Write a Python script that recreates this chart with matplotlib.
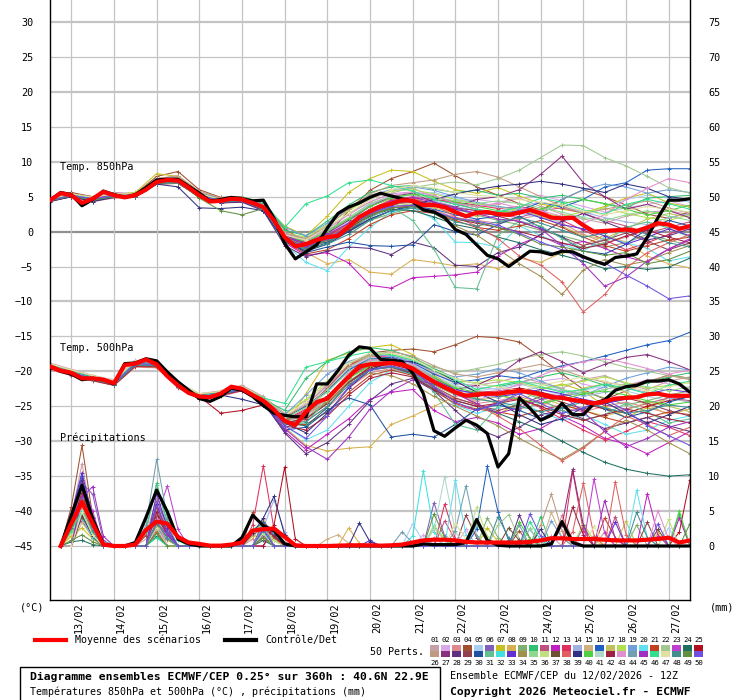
import matplotlib
matplotlib.use("Agg")
import matplotlib.pyplot as plt
from matplotlib.lines import Line2D
from matplotlib.patches import Rectangle
import numpy as np

plt.rcParams['font.family'] = ['DejaVu Sans Mono', 'DejaVu Sans']

# ---- data -------------------------------------------------------------
DATES = ['13/02', '14/02', '15/02', '16/02', '17/02', '18/02', '19/02', '20/02',
         '21/02', '22/02', '23/02', '24/02', '25/02', '26/02', '27/02']
HOURS_6H = np.arange(0, 361, 6)
HOURS_12H = np.arange(0, 361, 12)

# temperatures every 6h (hour 0 .. 360)
T850_MEAN = [4.5, 5.5, 5.2, 4.1, 4.7, 5.7, 5.2, 4.9, 5.2, 6.0,
             7.1, 7.4, 7.3, 6.3, 5.2, 4.3, 4.4, 4.7, 4.6, 4.1,
             3.5, 1.6, -0.8, -2.1, -1.8, -1.2, -0.8, -0.6, 0.7, 2.1,
             2.9, 3.6, 4.0, 4.5, 4.4, 3.8, 3.8, 3.5, 2.8, 2.2,
             2.7, 2.8, 2.5, 2.4, 2.7, 3.1, 2.6, 2.0, 1.9, 2.0,
             0.9, 0.0, 0.1, 0.2, 0.3, 0.1, 0.6, 1.2, 1.0, 0.4, 0.8]
T850_CTRL = [4.5, 5.6, 5.3, 3.7, 4.6, 5.8, 5.3, 4.9, 5.3, 6.3,
             7.4, 7.5, 7.5, 6.5, 5.5, 4.4, 4.6, 4.9, 4.7, 4.4,
             4.5, 1.9, -1.7, -3.9, -2.9, -1.9, 0.5, 2.6, 3.5, 4.1,
             4.9, 5.5, 5.1, 4.7, 4.3, 3.1, 2.8, 2.0, 0.3, -0.4,
             -1.9, -3.4, -3.9, -5.0, -3.9, -2.8, -2.9, -3.3, -2.8, -2.9,
             -3.6, -4.2, -4.7, -3.7, -3.5, -3.2, -0.8, 2.0, 4.5, 4.5, 4.7]
T500_MEAN = [-19.3, -19.9, -20.2, -21.0, -21.0, -21.2, -21.7, -19.1, -18.9, -18.3,
             -19.0, -20.7, -22.0, -23.1, -23.6, -23.7, -23.2, -22.2, -22.5, -23.4,
             -24.2, -25.5, -27.1, -27.7, -25.8, -24.4, -23.9, -22.3, -20.8, -19.3,
             -19.0, -18.9, -18.8, -19.0, -19.6, -20.6, -21.5, -22.3, -23.0, -23.5,
             -23.3, -23.2, -23.2, -23.0, -22.8, -23.0, -23.3, -23.7, -23.8, -24.1,
             -24.3, -24.6, -24.3, -23.9, -23.8, -23.7, -23.3, -23.2, -23.5, -23.5, -23.5]
T500_CTRL = [-19.3, -20.0, -20.4, -21.2, -21.0, -21.2, -21.8, -18.9, -18.8, -18.2,
             -18.5, -20.1, -21.5, -22.7, -23.9, -24.3, -23.6, -22.4, -22.7, -23.6,
             -24.9, -26.0, -26.3, -26.5, -26.5, -21.8, -21.8, -19.9, -17.7, -16.5,
             -16.7, -18.3, -18.4, -18.6, -20.2, -23.2, -28.5, -29.3, -28.1, -27.0,
             -27.7, -28.9, -33.7, -31.8, -23.8, -25.3, -27.0, -26.3, -24.6, -26.2,
             -26.2, -24.6, -24.1, -22.7, -22.2, -22.0, -21.4, -21.4, -21.2, -21.8, -23.0]

# precipitation (mm per 6h), hour 6 .. 360
RR_MEAN = [0.0, 3.2, 6.3, 3.2, 0.2, 0.0, 0.0, 0.2, 2.3, 3.5,
           3.2, 1.3, 0.5, 0.3, 0.05, 0.05, 0.2, 0.5, 2.2, 2.4,
           2.5, 1.3, 0.1, 0.0, 0.0, 0.0, 0.05, 0.1, 0.1, 0.1,
           0.05, 0.1, 0.2, 0.5, 0.8, 0.9, 0.9, 0.8, 0.6, 0.5,
           0.5, 0.5, 0.5, 0.5, 0.6, 0.8, 1.1, 1.1, 1.0, 1.0,
           1.0, 0.9, 0.8, 0.8, 0.8, 0.9, 1.0, 1.2, 0.5, 0.8]
RR_CTRL = [0.0, 4.4, 8.7, 3.9, 0.3, 0.0, 0.0, 0.5, 4.1, 8.0,
           4.9, 1.0, 0.3, 0.0, 0.0, 0.0, 0.0, 1.2, 4.4, 2.9,
           2.2, 0.3, 0.0, 0.0, 0.0, 0.0, 0.0, 0.0, 0.0, 0.0,
           0.0, 0.0, 0.0, 0.0, 0.3, 0.2, 0.2, 0.2, 0.5, 3.8,
           0.8, 0.1, 0.0, 0.0, 0.0, 0.0, 0.3, 3.5, 0.5, 0.0,
           0.0, 0.0, 0.0, 0.0, 0.0, 0.0, 0.0, 0.0, 0.0, 0.0]

MEMBER_COLORS = ['#c8a0a8', '#d8a8e8', '#e08890', '#a05030', '#a8d0f0',
                 '#8060b8', '#c8c020', '#d8b050', '#80b070', '#30c070',
                 '#c05080', '#c020c0', '#e03060', '#a0b0e0', '#d0b080',
                 '#2060c0', '#c0c060', '#b0e050', '#70a0d8', '#60e0f0',
                 '#c04020', '#a0c890', '#c040d0', '#207060', '#b01020',
                 '#c09a80', '#8a3080', '#603080', '#904050', '#2050a0',
                 '#60c090', '#40e0e0', '#6030d0', '#a09050', '#90d890',
                 '#c0e080', '#705030', '#e06060', '#303080', '#50d040',
                 '#b0d8c8', '#a02040', '#e090d0', '#70a0b0', '#a030c0',
                 '#30e090', '#e0e0a0', '#409090', '#609040', '#7050e0']

# perturbed members, every 12h (hour 0 .. 360)
T850_MEMBERS = {
    1: [4.6, 5.4, 4.9, 5.4, 5.0, 7.4, 7.8, 5.6, 4.8, 4.9, 3.8, -0.2, -1.2, 0.5, 2.5, 4.6, 5.8, 6.2, 5.0, 4.1, 3.5, 3.9, 4.8, 3.6, 2.5, 1.8, 1.2, 2.2, 2.8, 3.0, 2.4],
    2: [4.8, 5.5, 5.0, 5.6, 5.5, 7.6, 7.9, 5.4, 4.6, 4.8, 3.7, -0.3, -1.0, 0.2, 2.0, 4.0, 5.2, 5.6, 5.0, 4.4, 4.6, 4.2, 4.8, 5.2, 4.4, 3.6, 2.8, 3.4, 3.9, 4.4, 3.6],
    3: [4.3, 5.0, 4.3, 4.8, 4.9, 6.8, 6.9, 5.1, 4.3, 4.5, 3.4, -1.1, -2.4, -1.4, 0.2, 2.2, 3.4, 3.8, 3.1, 2.0, 1.6, 1.2, 1.8, 2.4, 1.2, -0.4, -1.6, -0.8, 0.4, 1.2, 0.2],
    4: [4.7, 5.6, 5.0, 5.5, 5.4, 7.9, 8.6, 6.0, 4.9, 5.0, 4.0, 0.4, -1.5, -0.5, 3.0, 5.9, 7.6, 8.6, 9.8, 8.0, 6.4, 5.2, 4.0, 3.1, 4.6, 6.0, 5.0, 3.8, 2.5, 1.9, 2.8],
    5: [4.6, 5.3, 4.9, 5.5, 5.3, 7.3, 7.6, 5.5, 4.7, 4.9, 3.6, -0.6, -1.5, -0.4, 1.4, 3.6, 4.8, 5.4, 5.6, 4.8, 4.0, 3.4, 2.6, 2.0, 1.4, 2.2, 3.4, 4.6, 5.2, 4.8, 4.2],
    7: [4.4, 5.2, 4.6, 5.3, 5.6, 8.3, 7.9, 5.5, 4.6, 4.8, 3.9, 0.8, -0.6, 2.2, 5.6, 7.6, 8.8, 8.6, 7.2, 6.0, 5.5, 6.3, 5.1, 4.0, 3.2, 2.7, 3.6, 4.8, 5.5, 4.1, 3.5],
    8: [4.5, 5.1, 4.4, 5.0, 5.2, 7.2, 7.0, 5.0, 4.2, 4.4, 3.2, -1.0, -3.0, -4.6, -4.0, -5.8, -6.1, -4.0, -4.4, -4.9, -4.6, -5.3, -3.8, -4.4, -3.0, -2.0, -0.5, -1.5, -3.5, -4.6, -5.2],
    9: [4.4, 5.0, 4.5, 5.0, 5.0, 6.9, 7.0, 4.9, 4.1, 4.3, 3.4, -1.0, -2.2, -1.2, 0.0, 1.6, 2.6, 3.4, 3.6, 3.2, 2.4, 1.6, 1.0, 0.2, -0.6, -1.4, -2.2, -1.6, -0.4, -1.2, -2.0],
    10: [4.6, 5.3, 4.8, 5.3, 5.3, 7.2, 7.4, 5.3, 4.6, 4.8, 3.8, 0.2, -0.6, 1.5, 3.8, 5.6, 6.4, 6.6, 6.1, 5.6, 5.9, 5.2, 5.5, 4.8, 5.2, 4.6, 4.0, 3.4, 4.8, 5.0, 5.2],
    11: [4.5, 5.3, 4.7, 5.1, 5.2, 7.0, 7.5, 5.4, 4.5, 4.6, 3.5, -0.8, -2.0, -0.6, 1.0, 3.0, 4.2, 4.8, 4.6, 4.0, 3.2, 2.4, 2.0, 3.0, 3.4, 2.6, 1.6, 0.8, -0.2, 0.6, 1.4],
    12: [4.4, 5.0, 4.5, 5.0, 5.1, 6.9, 7.0, 4.9, 4.1, 4.3, 3.0, -1.6, -3.4, -3.0, -4.5, -7.7, -8.1, -6.6, -6.4, -6.2, -5.8, -3.5, -1.8, -0.6, -2.0, -1.4, -2.4, -3.6, -4.4, -2.5, -1.0],
    13: [4.5, 5.2, 4.7, 5.2, 5.2, 7.2, 7.2, 5.2, 4.4, 4.6, 3.5, -0.7, -1.8, -0.6, 1.2, 3.2, 4.5, 5.0, 4.6, 4.2, 3.8, 3.3, 3.6, 3.0, 1.6, 0.2, -1.2, -2.6, -1.6, -0.4, 0.8],
    14: [4.6, 5.4, 4.9, 5.3, 5.4, 7.3, 7.5, 5.3, 4.5, 4.7, 3.6, -0.4, -1.4, 0.0, 1.8, 3.8, 5.0, 5.2, 4.4, 3.6, 3.0, 2.8, 3.6, 4.2, 3.6, 2.8, 2.0, 1.4, 1.0, 2.0, 2.6],
    16: [4.6, 5.3, 4.8, 5.2, 5.3, 7.0, 7.1, 5.1, 4.4, 4.7, 3.5, -0.6, -2.0, -1.5, 0.2, 1.8, 3.0, 3.6, 3.2, 2.4, 1.8, 2.2, 3.0, 4.2, 3.5, 4.6, 6.4, 7.0, 8.8, 9.0, 9.0],
    17: [4.5, 5.1, 4.6, 5.2, 5.1, 7.1, 7.2, 4.9, 4.2, 4.5, 3.4, -1.0, -2.0, -1.0, 0.4, 2.4, 3.6, 4.0, 3.4, 2.6, 2.2, 2.6, 3.2, 2.2, 0.8, -0.6, -1.0, 0.4, 1.8, 2.6, 2.0],
    18: [4.7, 5.4, 4.8, 5.4, 5.5, 7.4, 7.6, 5.3, 4.5, 4.7, 3.6, -0.2, -0.8, 1.0, 3.0, 4.8, 5.8, 6.0, 5.4, 4.6, 4.0, 3.6, 3.0, 2.6, 2.2, 2.8, 3.4, 2.6, 2.0, 1.6, 2.4],
    19: [4.6, 5.4, 4.9, 5.4, 5.4, 7.5, 7.6, 5.5, 4.7, 4.9, 3.9, 0.6, -0.6, 1.2, 3.3, 5.2, 6.0, 6.4, 5.9, 5.0, 4.2, 3.6, 3.2, 2.4, 4.6, 6.0, 6.8, 6.4, 5.5, 6.0, 5.6],
    20: [4.4, 5.1, 4.6, 5.1, 5.2, 7.0, 7.1, 5.0, 4.2, 4.4, 3.1, -1.8, -4.4, -5.6, -2.2, 0.6, 2.8, 3.4, 1.8, -1.5, -1.6, -2.2, 0.8, -0.6, -1.8, -2.8, -0.8, -1.6, -2.4, -4.2, -3.6],
    21: [4.4, 5.0, 4.4, 4.9, 5.0, 6.8, 6.9, 5.0, 4.2, 4.4, 3.2, -1.4, -3.2, -2.6, -1.0, 1.0, 2.4, 3.0, 2.6, 1.6, 0.6, 0.2, 0.8, 1.6, 0.6, -0.8, -2.0, -2.8, -2.0, -1.2, -0.8],
    22: [4.6, 5.3, 4.8, 5.3, 5.3, 7.3, 7.5, 5.4, 4.6, 4.8, 3.6, -0.4, -1.0, 0.6, 2.6, 4.2, 5.5, 6.3, 6.8, 7.1, 6.7, 7.6, 8.8, 10.6, 12.4, 12.3, 10.6, 9.4, 7.9, 6.3, 5.5],
    24: [4.5, 5.1, 4.6, 5.1, 5.2, 7.1, 7.3, 5.1, 4.4, 4.5, 3.3, -1.3, -2.6, -1.6, 0.1, 2.2, 3.2, 3.0, 2.1, 1.0, 0.4, -0.8, -1.6, -2.6, -3.4, -4.2, -5.3, -5.0, -5.4, -5.1, -3.8],
    26: [4.7, 5.4, 5.0, 5.5, 5.4, 7.6, 8.0, 5.8, 4.8, 4.9, 3.7, -0.2, -1.0, 0.8, 3.2, 5.4, 6.6, 7.0, 7.4, 8.2, 8.6, 7.8, 6.4, 5.0, 3.6, 2.6, 3.2, 3.8, 4.4, 3.4, 2.6],
    27: [4.5, 5.2, 4.7, 5.2, 5.1, 7.2, 7.3, 5.2, 4.5, 4.6, 3.6, -0.8, -1.6, -0.2, 1.6, 3.6, 5.0, 5.5, 4.2, 3.5, 4.6, 5.0, 6.0, 8.2, 10.8, 7.0, 5.0, 3.2, 3.9, 3.0, 2.0],
    28: [4.4, 5.0, 4.5, 5.0, 5.1, 7.0, 7.1, 5.0, 4.1, 4.2, 3.0, -2.0, -3.6, -2.8, -2.2, -2.4, -3.3, -1.5, -2.3, -4.8, -5.0, -3.0, -2.2, -0.4, 1.5, 2.6, 1.4, 0.2, -1.2, -0.6, 0.4],
    29: [4.5, 5.2, 4.8, 5.3, 5.2, 7.1, 7.0, 5.0, 4.3, 4.6, 3.5, -0.6, -1.6, -0.6, 0.8, 2.6, 3.8, 4.6, 4.0, 3.4, 3.0, 2.2, 1.4, 0.4, -0.8, -2.0, -1.2, -0.2, -1.4, -2.6, -1.6],
    30: [4.4, 5.1, 4.6, 5.1, 5.2, 7.0, 7.2, 5.1, 4.2, 4.4, 3.2, -1.2, -3.0, -2.2, -1.5, -2.0, -2.1, -1.9, 1.0, 0.0, -0.5, 1.0, 2.2, 0.6, -0.8, -2.8, -3.2, -1.8, 0.4, 1.6, 0.8],
    31: [4.5, 5.2, 4.8, 5.1, 5.0, 6.8, 7.0, 5.3, 4.5, 4.6, 3.3, -1.5, -2.6, -1.8, 0.5, 2.0, 3.5, 1.6, -2.5, -8.0, -8.2, -0.5, 1.5, 0.8, -1.0, -2.4, -1.6, 0.6, 1.4, 0.5, -0.8],
    33: [4.4, 5.1, 4.6, 5.2, 5.3, 7.2, 7.3, 5.2, 4.4, 4.6, 3.5, -0.9, -2.2, -1.0, 0.6, 2.6, 3.8, 4.4, 4.0, 3.2, 2.6, 2.4, 3.0, 2.0, 1.0, 0.4, -0.6, -1.8, -0.8, 0.4, -0.6],
    34: [4.5, 5.2, 4.6, 5.2, 5.2, 7.0, 7.3, 5.2, 4.4, 4.5, 3.4, -0.9, -2.0, -0.8, 0.9, 2.8, 3.9, 4.2, 2.6, 0.8, -0.5, -2.5, -4.6, -6.4, -9.0, -5.5, -4.0, -4.8, -4.2, -3.0, -2.0],
    35: [4.6, 5.3, 4.9, 5.4, 5.3, 7.3, 7.5, 5.4, 4.6, 4.8, 3.6, -0.4, -1.2, 0.2, 2.0, 4.0, 5.0, 5.2, 4.8, 4.4, 4.0, 4.4, 4.0, 3.4, 2.8, 2.0, 1.6, 2.4, 3.0, 2.2, 1.6],
    38: [4.4, 5.1, 4.6, 5.1, 5.2, 7.2, 7.4, 5.2, 4.3, 4.5, 3.4, -1.2, -2.4, -1.0, 1.2, 3.2, 4.6, 4.8, 3.9, 2.1, 0.8, -1.0, -3.5, -4.8, -7.2, -11.5, -9.0, -5.2, -3.0, -1.6, -0.4],
    39: [4.3, 5.0, 4.3, 4.9, 5.0, 6.8, 6.4, 3.4, 3.3, 3.5, 3.0, -1.4, -2.8, -1.8, 0.0, 1.8, 3.0, 3.8, 4.6, 5.4, 6.0, 6.5, 6.8, 7.2, 6.8, 6.2, 5.6, 6.8, 6.2, 5.0, 4.6],
    40: [4.5, 5.3, 4.7, 5.3, 5.2, 7.2, 7.4, 5.3, 4.5, 4.6, 3.5, -0.7, -1.4, 0.0, 1.8, 3.6, 4.8, 5.4, 5.0, 4.2, 3.6, 3.0, 2.6, 3.2, 4.0, 4.6, 4.0, 3.2, 2.4, 3.0, 3.8],
    42: [4.4, 5.1, 4.6, 5.1, 5.0, 6.9, 7.1, 5.0, 4.2, 4.4, 3.4, -1.0, -2.2, -1.2, 0.4, 2.4, 3.4, 3.6, 2.8, 1.8, 1.2, 0.6, 0.0, -0.8, -1.6, -2.4, -1.8, -0.6, 0.2, -0.8, -1.6],
    43: [4.5, 5.2, 4.7, 5.2, 5.2, 7.1, 7.3, 5.2, 4.5, 4.7, 3.7, -0.3, -1.3, 0.4, 2.4, 4.3, 5.4, 5.7, 5.2, 4.0, 3.6, 4.1, 3.4, 3.0, 2.2, 1.2, 2.4, 4.6, 6.2, 7.6, 7.0],
    45: [4.5, 5.2, 4.7, 5.3, 5.2, 7.2, 7.4, 5.3, 4.5, 4.6, 3.5, -0.5, -1.8, -0.4, 1.2, 3.0, 4.4, 4.9, 4.2, 3.4, 2.6, 1.8, 1.5, 0.4, -2.0, -4.6, -7.8, -6.5, -4.2, -2.5, -1.2],
    46: [4.5, 5.3, 4.6, 5.1, 5.3, 7.0, 7.2, 5.1, 4.5, 4.9, 4.3, 0.6, 4.0, 5.1, 7.0, 7.4, 6.6, 5.8, 4.6, 3.9, 3.2, 2.8, 3.5, 4.8, 4.2, 3.1, 2.5, 3.9, 4.6, 4.0, 3.2],
    47: [4.6, 5.4, 4.9, 5.4, 5.4, 7.4, 7.7, 5.4, 4.6, 4.8, 3.6, -0.5, -1.2, 0.6, 2.6, 4.6, 6.0, 6.6, 6.2, 5.6, 5.2, 5.0, 4.6, 4.2, 3.8, 3.0, 2.4, 3.0, 3.6, 3.2, 2.8],
    48: [4.4, 5.1, 4.5, 5.0, 5.0, 6.9, 7.0, 4.9, 4.2, 4.4, 3.3, -1.2, -2.6, -1.8, -0.4, 1.6, 3.0, 3.4, 2.6, 1.4, 0.8, 1.4, 2.0, 1.2, 0.2, -0.8, -0.2, 0.6, -0.4, -1.6, -2.2],
    49: [4.5, 5.1, 4.6, 5.0, 5.1, 7.0, 7.2, 4.8, 3.0, 2.4, 3.3, -1.0, -2.4, -1.2, 0.6, 2.4, 3.4, 3.6, 2.8, 1.8, 1.4, 0.6, -0.4, -1.8, -2.2, -2.8, -3.4, -3.0, -4.6, -4.0, -2.8],
    50: [4.5, 5.2, 4.7, 5.1, 5.1, 7.1, 7.2, 5.2, 4.4, 4.5, 3.4, -1.0, -2.2, -1.0, 0.8, 2.6, 3.6, 3.8, 2.9, 1.9, 1.5, 0.9, -0.2, -1.5, -2.6, -3.8, -4.5, -6.2, -7.8, -9.6, -9.2],
}

T500_MEMBERS = {
    1: [-19.2, -20.0, -20.8, -21.5, -18.7, -18.8, -21.6, -23.2, -22.8, -22.0, -23.6, -26.0, -24.2, -21.8, -19.6, -18.2, -18.0, -18.6, -20.2, -21.8, -22.0, -21.5, -20.8, -21.6, -22.4, -21.2, -20.6, -21.8, -22.6, -21.4, -20.8],
    2: [-18.8, -19.7, -20.6, -21.2, -18.4, -18.6, -21.6, -23.2, -22.9, -22.2, -24.0, -26.4, -24.6, -22.0, -19.4, -18.0, -17.8, -18.6, -20.2, -21.6, -22.2, -22.6, -22.0, -21.4, -21.0, -21.8, -22.6, -22.0, -21.2, -21.8, -22.4],
    3: [-19.8, -20.6, -21.4, -22.0, -19.4, -19.5, -22.4, -24.0, -23.6, -22.8, -24.2, -27.6, -27.0, -25.2, -22.4, -20.2, -19.6, -20.4, -22.4, -24.0, -24.6, -24.2, -23.6, -24.4, -25.2, -25.8, -25.0, -24.4, -25.2, -26.0, -25.4],
    4: [-19.3, -20.1, -20.9, -21.6, -18.7, -18.9, -21.8, -23.4, -23.0, -22.3, -24.0, -26.5, -25.0, -22.6, -19.2, -17.4, -17.0, -16.8, -17.2, -16.2, -15.0, -15.2, -15.8, -18.0, -20.4, -22.6, -24.0, -22.8, -21.6, -20.5, -21.0],
    5: [-19.0, -20.0, -20.7, -21.4, -18.6, -18.7, -21.7, -23.3, -23.0, -22.3, -24.0, -26.8, -24.8, -22.2, -19.6, -18.4, -18.2, -19.0, -20.6, -22.0, -22.8, -22.4, -21.8, -22.6, -23.4, -22.8, -22.0, -22.8, -23.6, -24.2, -23.6],
    7: [-19.2, -20.0, -20.9, -21.6, -18.8, -18.9, -21.9, -23.5, -23.0, -22.4, -24.0, -27.8, -23.2, -18.4, -17.4, -16.6, -16.2, -17.6, -20.6, -22.4, -24.6, -26.2, -24.4, -22.6, -21.8, -22.8, -25.0, -26.6, -25.2, -23.8, -24.4],
    8: [-19.3, -20.2, -21.0, -21.7, -18.9, -19.1, -22.0, -23.6, -23.3, -22.6, -24.4, -28.0, -30.6, -31.4, -31.0, -30.8, -27.6, -26.4, -25.0, -23.6, -22.8, -23.4, -24.2, -25.0, -23.6, -22.4, -21.8, -23.0, -24.8, -26.2, -25.4],
    9: [-19.6, -20.4, -21.3, -21.9, -19.2, -19.3, -22.2, -23.8, -23.4, -22.7, -24.2, -27.4, -26.6, -24.4, -21.4, -19.4, -19.2, -20.2, -22.0, -23.4, -23.8, -24.6, -25.4, -24.6, -23.6, -23.0, -23.8, -24.8, -24.2, -23.4, -22.8],
    10: [-19.2, -20.1, -20.9, -21.6, -18.8, -18.9, -21.9, -23.5, -23.1, -22.4, -24.0, -25.6, -21.0, -18.6, -17.2, -16.6, -17.0, -18.0, -19.6, -21.0, -21.8, -22.2, -21.6, -20.8, -20.2, -21.0, -22.0, -22.4, -21.6, -20.8, -20.2],
    11: [-19.4, -20.3, -21.2, -21.8, -19.0, -19.2, -22.1, -23.7, -23.3, -22.6, -24.2, -27.0, -25.6, -23.6, -20.6, -19.0, -18.8, -19.6, -21.4, -22.8, -23.0, -22.8, -22.4, -23.0, -23.6, -24.2, -24.8, -25.4, -24.6, -23.8, -24.2],
    12: [-19.4, -20.3, -21.1, -21.8, -19.0, -19.2, -22.1, -23.7, -23.4, -22.8, -24.6, -28.6, -31.2, -29.0, -26.8, -24.0, -23.0, -22.6, -25.6, -27.2, -26.6, -27.4, -29.0, -28.2, -26.4, -27.8, -29.6, -30.4, -31.8, -30.2, -28.6],
    13: [-19.3, -20.2, -21.0, -21.7, -18.9, -19.0, -22.0, -23.6, -23.2, -22.5, -24.2, -27.0, -25.4, -22.4, -19.2, -17.8, -18.0, -19.6, -22.4, -24.8, -25.6, -24.4, -23.8, -25.2, -26.8, -28.4, -29.8, -28.6, -27.2, -28.0, -29.2],
    14: [-19.1, -19.9, -20.8, -21.4, -18.6, -18.8, -21.8, -23.4, -23.0, -22.3, -24.0, -26.6, -25.0, -22.8, -19.8, -18.4, -18.4, -19.2, -21.0, -22.6, -23.4, -23.8, -23.0, -22.2, -22.8, -23.6, -23.0, -22.4, -23.0, -23.8, -24.4],
    16: [-19.2, -20.1, -20.9, -21.5, -18.8, -18.9, -21.8, -23.4, -23.0, -22.3, -24.0, -26.6, -25.0, -22.8, -19.8, -18.2, -18.0, -18.8, -20.4, -21.6, -21.2, -20.6, -21.0, -20.0, -19.2, -18.6, -17.8, -17.0, -16.2, -15.6, -14.4],
    17: [-19.5, -20.3, -21.1, -21.9, -19.1, -19.2, -22.2, -23.8, -23.3, -22.6, -24.2, -27.2, -26.2, -24.0, -21.0, -19.2, -19.0, -19.8, -21.8, -23.4, -24.2, -23.6, -22.6, -23.8, -24.8, -25.6, -26.4, -25.6, -24.4, -25.0, -25.8],
    18: [-19.0, -19.8, -20.7, -21.4, -18.6, -18.7, -21.7, -23.3, -22.9, -22.2, -23.8, -26.2, -24.0, -21.4, -18.8, -17.8, -17.6, -18.4, -20.0, -21.4, -21.6, -21.2, -21.6, -22.4, -22.0, -21.4, -20.8, -21.6, -22.4, -22.0, -21.6],
    19: [-19.2, -20.1, -20.9, -21.6, -18.8, -18.9, -21.9, -23.5, -23.1, -22.4, -24.0, -26.2, -23.4, -20.4, -18.6, -17.6, -17.8, -18.6, -20.0, -20.8, -20.4, -19.6, -20.2, -21.4, -22.6, -23.4, -22.2, -21.0, -20.2, -19.4, -19.8],
    20: [-19.3, -20.2, -21.0, -21.7, -18.9, -19.0, -22.0, -23.6, -23.2, -22.5, -24.2, -27.8, -29.8, -28.4, -25.0, -21.6, -19.8, -20.4, -22.6, -24.8, -26.0, -25.2, -24.4, -25.8, -27.0, -26.2, -27.6, -29.0, -28.4, -27.0, -26.4],
    21: [-19.6, -20.5, -21.3, -22.0, -19.3, -19.4, -22.3, -23.9, -23.4, -22.7, -24.4, -27.6, -27.6, -25.8, -23.0, -20.6, -19.8, -20.6, -22.8, -24.6, -25.4, -25.8, -26.4, -25.6, -24.8, -25.6, -26.6, -27.4, -26.6, -25.8, -26.2],
    22: [-19.2, -20.1, -20.9, -21.6, -18.8, -18.9, -21.9, -23.5, -23.1, -22.4, -24.0, -26.8, -25.2, -22.6, -19.4, -17.8, -17.4, -18.2, -19.4, -20.2, -19.6, -19.0, -18.2, -17.6, -17.2, -17.8, -18.6, -19.4, -20.0, -20.6, -21.0],
    24: [-19.3, -20.2, -21.0, -21.7, -18.9, -19.0, -22.0, -23.6, -23.2, -22.5, -24.2, -27.4, -27.8, -25.2, -21.6, -19.8, -19.4, -20.4, -22.6, -24.2, -25.0, -26.0, -27.2, -28.4, -30.0, -31.6, -33.0, -34.0, -34.6, -35.0, -34.8],
    25: [-19.3, -20.2, -21.0, -21.7, -18.9, -19.0, -22.0, -23.6, -26.0, -25.6, -24.8, -27.4, -26.8, -24.6, -21.6, -19.4, -19.0, -19.8, -21.6, -23.2, -23.6, -23.0, -22.4, -23.0, -23.8, -24.6, -25.4, -26.0, -25.0, -24.2, -23.6],
    26: [-18.9, -19.8, -20.6, -21.3, -18.5, -18.6, -21.6, -23.3, -22.9, -22.2, -24.0, -26.6, -24.8, -22.0, -19.0, -17.6, -17.2, -17.8, -19.2, -20.4, -20.8, -20.2, -19.6, -19.0, -19.8, -20.8, -21.6, -22.0, -21.4, -20.6, -21.2],
    27: [-19.3, -20.2, -21.0, -21.7, -18.9, -19.0, -22.0, -23.6, -23.2, -22.5, -24.2, -27.2, -26.0, -23.6, -20.6, -18.8, -18.6, -19.2, -20.8, -22.6, -22.0, -20.6, -18.4, -17.2, -18.6, -20.2, -19.0, -18.0, -17.6, -18.6, -19.8],
    28: [-19.4, -20.3, -21.1, -21.8, -19.0, -19.1, -22.1, -23.7, -23.3, -22.6, -24.4, -28.8, -31.8, -30.2, -27.6, -24.2, -21.8, -21.0, -22.8, -25.6, -28.2, -29.4, -28.0, -26.2, -25.6, -26.8, -28.2, -27.4, -26.6, -27.8, -28.6],
    29: [-19.5, -20.4, -21.2, -21.9, -19.1, -19.2, -22.2, -23.8, -23.3, -22.6, -24.2, -27.4, -26.8, -24.6, -21.6, -19.6, -19.4, -20.2, -22.2, -23.8, -24.8, -25.6, -24.8, -23.6, -24.4, -25.4, -24.6, -23.8, -24.6, -25.6, -26.4],
    30: [-19.4, -20.3, -21.1, -21.8, -19.0, -19.1, -22.1, -23.7, -23.3, -22.6, -24.4, -28.4, -28.0, -25.6, -23.8, -24.8, -29.4, -29.0, -29.4, -27.6, -25.4, -24.8, -25.6, -26.8, -25.2, -24.0, -25.4, -26.6, -25.8, -24.4, -23.6],
    31: [-19.3, -20.2, -21.0, -21.7, -18.9, -19.0, -22.0, -23.6, -23.2, -22.5, -24.2, -27.6, -27.4, -24.0, -20.2, -18.2, -18.4, -19.8, -23.0, -27.6, -28.4, -25.0, -22.8, -24.0, -25.6, -27.0, -26.2, -24.6, -25.8, -27.4, -26.8],
    33: [-19.1, -20.0, -20.8, -21.5, -18.7, -18.8, -21.8, -23.4, -23.0, -22.4, -24.2, -27.0, -25.8, -23.8, -20.8, -19.0, -18.6, -19.4, -21.2, -22.6, -23.2, -23.6, -23.2, -22.6, -23.2, -24.0, -24.6, -24.0, -23.2, -22.6, -23.0],
    34: [-19.3, -20.2, -21.0, -21.7, -18.9, -19.0, -22.0, -23.6, -23.2, -22.5, -24.2, -27.0, -26.2, -24.4, -21.8, -20.2, -20.6, -21.8, -23.6, -25.0, -26.4, -27.8, -29.6, -31.2, -32.6, -30.8, -28.6, -27.0, -28.4, -30.2, -31.8],
    35: [-19.0, -19.9, -20.7, -21.4, -18.6, -18.7, -21.7, -23.3, -22.9, -22.2, -24.0, -26.8, -25.2, -23.0, -20.0, -18.6, -18.4, -19.2, -20.8, -22.2, -22.6, -22.0, -21.4, -21.8, -22.6, -23.2, -22.6, -21.8, -22.2, -22.8, -22.2],
    38: [-19.3, -20.2, -21.0, -21.7, -18.9, -19.0, -22.0, -23.6, -23.2, -22.5, -24.2, -27.0, -25.8, -23.8, -20.8, -19.0, -18.8, -19.4, -21.2, -23.0, -24.8, -26.4, -28.2, -30.6, -32.8, -31.0, -28.6, -26.4, -27.6, -29.2, -28.0],
    39: [-19.3, -20.2, -21.0, -21.7, -18.9, -19.0, -22.0, -23.6, -23.4, -24.0, -24.8, -27.4, -28.8, -26.0, -22.4, -19.8, -18.6, -18.6, -19.8, -21.4, -23.0, -24.4, -26.2, -27.6, -26.8, -25.2, -24.4, -26.0, -27.4, -26.2, -25.0],
    40: [-19.4, -20.2, -21.1, -21.8, -19.0, -19.1, -22.1, -23.7, -23.2, -22.5, -24.2, -27.2, -26.0, -24.0, -21.0, -19.2, -18.8, -19.4, -21.0, -22.4, -23.0, -23.4, -24.0, -24.6, -24.0, -23.2, -22.8, -23.4, -24.2, -24.8, -24.4],
    42: [-19.6, -20.5, -21.3, -22.0, -19.2, -19.3, -22.3, -23.9, -23.4, -22.7, -24.2, -27.8, -28.4, -26.4, -23.4, -21.0, -20.2, -20.8, -22.6, -24.2, -25.0, -24.6, -24.0, -25.0, -26.2, -27.0, -26.2, -25.4, -26.0, -26.8, -27.4],
    43: [-19.3, -20.2, -21.0, -21.7, -18.9, -19.0, -22.0, -23.6, -23.2, -22.5, -24.2, -27.2, -26.4, -23.8, -20.2, -18.4, -18.2, -19.0, -21.2, -23.4, -24.2, -23.0, -21.8, -20.6, -19.4, -18.6, -18.2, -18.8, -19.6, -20.4, -19.8],
    45: [-19.3, -20.2, -21.0, -21.7, -18.9, -19.0, -22.0, -23.6, -23.2, -22.5, -24.2, -28.2, -30.8, -32.6, -29.4, -25.4, -22.8, -21.2, -21.8, -23.2, -24.6, -26.0, -25.2, -24.0, -23.4, -25.8, -28.6, -30.8, -29.6, -28.0, -27.2],
    46: [-19.2, -20.1, -20.9, -21.6, -18.8, -18.9, -21.9, -23.5, -23.1, -22.4, -23.8, -24.6, -19.4, -18.6, -17.8, -17.2, -17.6, -18.4, -19.8, -21.2, -22.6, -22.0, -21.4, -22.2, -23.0, -22.6, -21.8, -22.4, -23.2, -22.0, -21.4],
    47: [-18.9, -19.8, -20.6, -21.3, -18.5, -18.6, -21.6, -23.2, -22.9, -22.2, -24.0, -26.4, -24.4, -21.6, -18.8, -17.4, -17.4, -18.2, -19.8, -21.0, -21.8, -22.2, -22.8, -22.0, -21.4, -20.8, -21.4, -22.2, -22.8, -22.2, -21.6],
    48: [-19.5, -20.4, -21.2, -21.9, -19.1, -19.2, -22.2, -23.8, -23.3, -22.6, -24.2, -27.4, -27.2, -25.0, -22.0, -19.8, -19.4, -20.0, -21.8, -23.2, -24.0, -24.4, -25.0, -25.8, -25.2, -24.4, -25.2, -26.0, -25.6, -24.8, -25.2],
    50: [-19.3, -20.2, -21.0, -21.7, -18.9, -19.0, -22.0, -23.6, -23.2, -22.5, -24.2, -27.8, -29.6, -26.4, -22.2, -19.8, -19.2, -20.0, -22.2, -24.4, -25.6, -24.6, -23.2, -24.6, -26.0, -25.2, -24.0, -25.6, -27.8, -29.2, -30.6],
}

# precipitation of the members: (6h step, mm), other steps are dry
RR_MEMBERS = {
    1: [(2, 4.0), (3, 11.8), (4, 3.2), (9, 1.0), (10, 4.6), (11, 1.8), (20, 1.6), (21, 2.2), (22, 0.6), (36, 1.2), (47, 1.4), (52, 2.0)],
    2: [(2, 3.0), (3, 7.8), (4, 2.4), (10, 5.2), (11, 1.8), (20, 2.0), (35, 1.6), (39, 2.4)],
    3: [(2, 2.6), (3, 6.4), (4, 2.0), (9, 1.6), (10, 6.8), (11, 2.2), (19, 1.0), (20, 3.8), (21, 1.4), (48, 4.4), (49, 1.0)],
    4: [(2, 5.6), (3, 14.4), (4, 4.2), (5, 0.4), (9, 1.5), (10, 5.5), (11, 2.0), (19, 4.8), (20, 2.6), (21, 0.8), (44, 2.2)],
    5: [(2, 3.8), (3, 8.6), (4, 3.0), (10, 3.6), (11, 1.2), (20, 1.6), (34, 3.2), (35, 0.6), (58, 2.6)],
    6: [(2, 3.0), (3, 9.0), (4, 7.4), (5, 0.8), (10, 6.4), (11, 3.0), (20, 2.2), (36, 6.2), (37, 1.4), (50, 2.6)],
    7: [(2, 1.4), (3, 2.6), (4, 1.0), (10, 2.2), (11, 0.8), (19, 1.4), (20, 3.6), (21, 1.2), (41, 2.6), (42, 0.6)],
    8: [(2, 2.2), (3, 6.0), (4, 2.0), (10, 3.0), (11, 1.2), (20, 2.8), (28, 2.6), (29, 0.4), (57, 1.8)],
    9: [(2, 1.8), (3, 4.4), (4, 1.6), (10, 2.6), (11, 1.0), (20, 2.4), (21, 1.0), (41, 4.0), (42, 1.2), (55, 3.0)],
    10: [(2, 3.6), (3, 8.0), (4, 2.6), (9, 2.4), (10, 9.0), (11, 3.4), (12, 0.8), (19, 2.4), (20, 3.2), (46, 4.2), (59, 4.6)],
    11: [(2, 3.0), (3, 6.8), (4, 2.6), (10, 4.4), (11, 1.6), (20, 2.2), (37, 3.6), (38, 0.8), (53, 4.2)],
    12: [(2, 2.0), (3, 3.6), (4, 1.4), (10, 4.0), (11, 1.6), (21, 2.6), (56, 7.5), (57, 1.5), (59, 4.0)],
    13: [(2, 3.4), (3, 7.2), (4, 2.4), (10, 2.8), (11, 1.0), (19, 3.0), (20, 11.5), (21, 2.4), (37, 6.0), (38, 1.0), (49, 10.7), (50, 2.2)],
    14: [(3, 5.0), (4, 1.8), (10, 3.2), (20, 2.6), (21, 6.6), (22, 2.0), (45, 2.4)],
    15: [(3, 3.4), (4, 1.2), (10, 2.4), (20, 1.4), (21, 0.8), (26, 1.0), (27, 1.6), (28, 0.4), (47, 4.8), (48, 1.2)],
    16: [(2, 4.2), (3, 10.0), (4, 3.0), (10, 4.8), (11, 2.0), (20, 3.5), (21, 1.6), (40, 2.4), (41, 11.4), (42, 4.9), (43, 0.8)],
    17: [(2, 2.0), (3, 5.2), (4, 1.8), (10, 3.0), (11, 1.0), (20, 2.0), (36, 2.6), (37, 0.8), (54, 3.6)],
    18: [(2, 2.6), (3, 6.2), (4, 2.0), (10, 3.8), (11, 1.4), (20, 1.6), (40, 3.8), (41, 1.0), (50, 3.2), (51, 0.8)],
    19: [(2, 3.2), (3, 8.0), (4, 2.2), (10, 2.5), (11, 1.0), (20, 1.8), (47, 3.6), (48, 1.2)],
    20: [(2, 2.8), (3, 6.6), (4, 2.0), (10, 3.5), (11, 1.2), (20, 2.0), (38, 9.5), (39, 1.6), (55, 8.0), (56, 1.2)],
    21: [(2, 3.4), (3, 8.4), (4, 3.0), (10, 5.0), (11, 1.8), (20, 3.2), (21, 1.2), (52, 4.0), (53, 1.2)],
    22: [(2, 2.0), (3, 4.8), (4, 1.6), (10, 3.0), (11, 1.4), (20, 1.4), (42, 3.0), (43, 4.5), (44, 1.0)],
    23: [(2, 3.2), (3, 9.0), (4, 5.0), (10, 4.2), (11, 8.6), (12, 2.4), (20, 2.0), (51, 9.6), (52, 1.8)],
    24: [(2, 0.6), (3, 0.8), (4, 0.2), (10, 1.4), (20, 0.8)],
    25: [(3, 4.4), (4, 1.2), (10, 2.0), (21, 3.0), (22, 11.3), (23, 1.0), (59, 2.0), (60, 9.5)],
    26: [(3, 5.8), (4, 2.0), (10, 4.6), (11, 1.6), (19, 1.6), (20, 2.4), (46, 3.0), (47, 7.4), (48, 2.2)],
    27: [(3, 6.4), (4, 2.2), (10, 3.6), (11, 1.2), (20, 2.4), (48, 3.0), (49, 11.0), (50, 3.0)],
    28: [(2, 3.4), (3, 9.5), (4, 3.4), (10, 6.0), (11, 2.0), (20, 1.8), (44, 4.4), (45, 1.0)],
    29: [(2, 2.8), (3, 6.8), (4, 2.2), (10, 4.2), (11, 1.6), (20, 2.0), (39, 4.4), (40, 1.2), (56, 3.4)],
    31: [(2, 2.6), (3, 5.6), (4, 1.8), (9, 2.0), (10, 8.8), (11, 3.0), (20, 1.2), (40, 3.2), (41, 0.6)],
    32: [(2, 2.4), (3, 4.0), (4, 1.2), (10, 1.8), (20, 2.2), (34, 1.4), (35, 10.8), (36, 2.0)],
    33: [(2, 4.6), (3, 10.5), (4, 4.0), (10, 7.5), (11, 2.6), (20, 2.4), (30, 0.8), (53, 3.4)],
    35: [(2, 2.2), (3, 5.4), (4, 1.8), (10, 2.8), (11, 1.2), (20, 1.6), (36, 3.0), (37, 1.0), (45, 2.6)],
    36: [(2, 1.8), (3, 4.6), (4, 1.4), (10, 2.4), (20, 2.6), (21, 0.8), (40, 5.6), (41, 1.4), (58, 3.8)],
    37: [(3, 4.2), (4, 1.6), (10, 3.2), (11, 1.2), (20, 1.8), (43, 2.6), (44, 0.8), (57, 2.4)],
    38: [(2, 2.4), (3, 5.5), (4, 1.8), (10, 2.0), (20, 1.2), (49, 2.0), (50, 9.0), (51, 1.4), (53, 9.2), (54, 1.6)],
    39: [(3, 4.6), (4, 1.4), (10, 2.6), (19, 1.8), (20, 4.0), (21, 7.1), (22, 1.6), (29, 3.3), (30, 0.6), (46, 2.4)],
    40: [(2, 2.4), (3, 6.0), (4, 2.2), (10, 3.4), (11, 1.4), (20, 2.0), (44, 3.4), (45, 1.0), (59, 5.0)],
    41: [(3, 5.2), (4, 1.6), (10, 3.8), (11, 1.4), (20, 2.6), (36, 2.4), (37, 9.9), (38, 2.0)],
    42: [(2, 3.0), (3, 7.6), (4, 2.6), (10, 4.8), (11, 1.6), (20, 2.6), (21, 1.4), (49, 5.6), (50, 1.6)],
    43: [(3, 6.0), (4, 2.4), (10, 3.8), (20, 2.8), (57, 5.0), (58, 1.0)],
    44: [(3, 6.8), (4, 2.0), (9, 3.0), (10, 12.4), (11, 4.0), (12, 1.2), (20, 3.0), (33, 2.0), (34, 0.5), (38, 2.2), (39, 8.6), (40, 1.4), (44, 3.0)],
    45: [(3, 7.0), (4, 8.5), (5, 1.4), (10, 3.4), (11, 1.6), (20, 1.6), (52, 6.5), (53, 1.0)],
    46: [(2, 2.2), (3, 5.0), (4, 1.6), (10, 1.2), (20, 1.8), (45, 3.5), (46, 0.8)],
    47: [(3, 4.8), (4, 1.6), (10, 2.6), (20, 1.8), (38, 3.2), (39, 1.0), (51, 2.8)],
    48: [(2, 2.6), (3, 6.4), (4, 2.2), (10, 3.4), (11, 1.2), (20, 2.2), (42, 4.2), (43, 1.2), (55, 4.8), (56, 1.2)],
    49: [(2, 0.8), (3, 1.6), (4, 0.6), (10, 1.8), (20, 1.2), (36, 4.6), (37, 1.2), (60, 3.2)],
    50: [(2, 3.6), (3, 8.8), (4, 3.2), (10, 5.8), (11, 2.0), (20, 2.4), (45, 4.6), (46, 1.4), (57, 3.2)],
}

RR_BASE = -45.0   # zero precipitation sits on -45 of the left scale
W, H = 740, 700


def fx(px):
    return px / W


def fy(py):
    return 1 - py / H


fig = plt.figure(figsize=(7.4, 7.0), dpi=100)
ax = fig.add_axes([fx(50), fy(600), fx(640), 600 / H])
ax.set_xlim(0, 360)
ax.set_ylim(-52.73, 33.15)

# grid
for v in range(-45, 31, 5):
    if v == 0:
        ax.axhline(v, color='#909090', lw=1.6, zorder=0)
    elif v % 10 == 0:
        ax.axhline(v, color='#c4c4c4', lw=1.6, zorder=0)
    else:
        ax.axhline(v, color='#c4c4c4', lw=0.9, zorder=0)
for d in range(len(DATES)):
    ax.axvline(12 + 24 * d, color='#c4c4c4', lw=0.9, zorder=0)

mk = dict(marker='+', markersize=3, markeredgewidth=0.7, lw=0.75, zorder=2)

for m, vals in T850_MEMBERS.items():
    ax.plot(HOURS_12H, vals, color=MEMBER_COLORS[m - 1], **mk)
for m, vals in T500_MEMBERS.items():
    ax.plot(HOURS_12H, vals, color=MEMBER_COLORS[m - 1], **mk)
for m, pairs in RR_MEMBERS.items():
    rr = np.zeros(60)
    for step, mm in pairs:
        rr[step - 1] = mm
    ax.plot(HOURS_6H[1:], RR_BASE + rr, color=MEMBER_COLORS[m - 1], **mk)

ax.plot(HOURS_6H, T850_CTRL, color='black', lw=2.3, zorder=4)
ax.plot(HOURS_6H, T500_CTRL, color='black', lw=2.3, zorder=4)
ax.plot(HOURS_6H[1:], RR_BASE + np.array(RR_CTRL), color='black', lw=2.3, zorder=4)
ax.plot(HOURS_6H, T850_MEAN, color='#ff0000', lw=3.0, zorder=5)
ax.plot(HOURS_6H, T500_MEAN, color='#ff0000', lw=3.0, zorder=5)
ax.plot(HOURS_6H[1:], RR_BASE + np.array(RR_MEAN), color='#ff0000', lw=3.0, zorder=5)

ax.text(5.6, 9.2, 'Temp. 850hPa', fontsize=7.3, va='center', ha='left', zorder=6)
ax.text(5.6, -16.6, 'Temp. 500hPa', fontsize=7.3, va='center', ha='left', zorder=6)
ax.text(5.6, -29.5, 'Précipitations', fontsize=7.3, va='center', ha='left', zorder=6)

# axes frame and ticks
for s in ['left', 'right', 'bottom']:
    ax.spines[s].set_color('black')
    ax.spines[s].set_linewidth(1.0)
ax.spines['top'].set_visible(False)
ax.set_yticks(range(-45, 31, 5))
ax.set_xticks([])
ax.tick_params(axis='y', length=0, pad=12, labelsize=7.3)

ax2 = ax.twinx()
ax2.set_ylim(-52.73 + 45, 33.15 + 45)
ax2.set_yticks(range(0, 76, 5))
ax2.tick_params(axis='y', length=0, pad=13, labelsize=7.3)
for s in ax2.spines.values():
    s.set_visible(False)

for d, lab in enumerate(DATES):
    ax.annotate(lab, xy=(12 + 24 * d, 0), xycoords=('data', 'axes fraction'),
                xytext=(1.5, -1.5), textcoords='offset points',
                rotation=90, ha='left', va='top', fontsize=7.3)

fig.text(fx(20), fy(607), '(°C)', fontsize=7.3, va='center', ha='left')
fig.text(fx(710), fy(607), '(mm)', fontsize=7.3, va='center', ha='left')

# legend
fig.add_artist(Line2D([fx(35), fx(66)], [fy(640), fy(640)], color='#ff0000', lw=3.0))
fig.text(fx(75), fy(640), 'Moyenne des scénarios', fontsize=7.2, va='center', ha='left')
fig.add_artist(Line2D([fx(225), fx(256)], [fy(640), fy(640)], color='black', lw=3.0))
fig.text(fx(265), fy(640), 'Contrôle/Det', fontsize=7.2, va='center', ha='left')

fig.text(fx(370), fy(652), '50 Perts.', fontsize=7.2, va='center', ha='left')
for k in range(25):
    x0 = 430 + 11 * k
    fig.add_artist(Rectangle((fx(x0), fy(651)), 9.4 / W, 6 / H,
                             transform=fig.transFigure, color=MEMBER_COLORS[k], lw=0))
    fig.add_artist(Rectangle((fx(x0), fy(657)), 9.4 / W, 6 / H,
                             transform=fig.transFigure, color=MEMBER_COLORS[k + 25], lw=0))
    fig.text(fx(x0 + 4.7), fy(640), f'{k + 1:02d}', fontsize=5.2, ha='center', va='center')
    fig.text(fx(x0 + 4.7), fy(663), f'{k + 26:02d}', fontsize=5.2, ha='center', va='center')

# caption box
fig.add_artist(Rectangle((fx(20), fy(702)), 420 / W, 35 / H, transform=fig.transFigure,
                         fill=False, edgecolor='black', lw=1.0))
fig.text(fx(30), fy(677), 'Diagramme ensembles ECMWF/CEP 0.25° sur 360h : 40.6N 22.9E',
         fontsize=8.2, fontweight='bold', va='center', ha='left')
fig.text(fx(30), fy(692), 'Températures 850hPa et 500hPa (°C) , précipitations (mm)',
         fontsize=7.2, va='center', ha='left')
fig.text(fx(450), fy(676), 'Ensemble ECMWF/CEP du 12/02/2026 - 12Z',
         fontsize=7.2, va='center', ha='left')
fig.text(fx(450), fy(692), 'Copyright 2026 Meteociel.fr - ECMWF',
         fontsize=8.2, fontweight='bold', va='center', ha='left')

fig.savefig('out.png', dpi=100)
